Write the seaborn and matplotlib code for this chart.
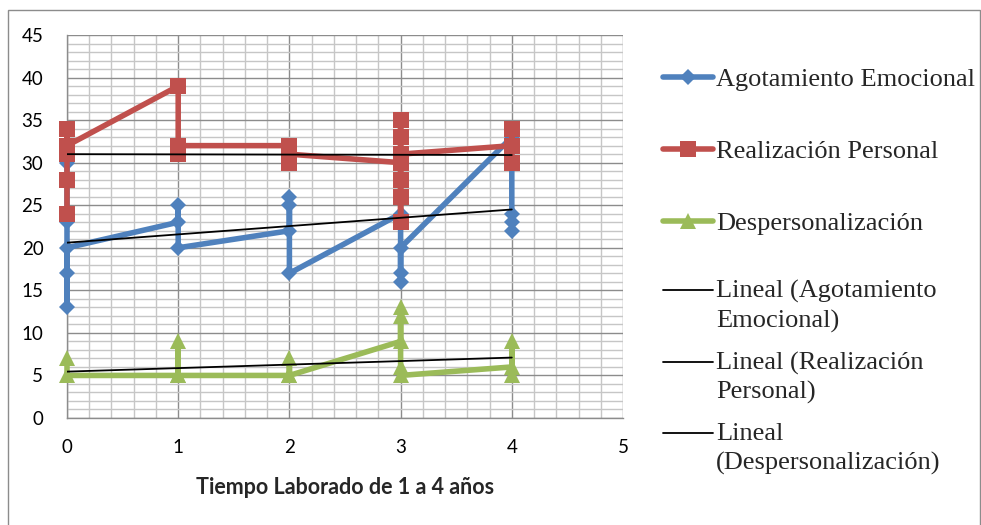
import matplotlib
matplotlib.use("Agg")
import matplotlib.pyplot as plt
import seaborn as sns
import numpy as np
import pandas as pd
from matplotlib.patches import Rectangle
from matplotlib.ticker import MultipleLocator
from matplotlib.legend_handler import HandlerLine2D

# ---------------- data ----------------
series_names = ["Agotamiento Emocional", "Realización Personal", "Despersonalización"]
trend_names = ["Lineal (Agotamiento\nEmocional)", "Lineal (Realización\nPersonal)", "Lineal\n(Despersonalización)"]

x_agot = [0, 0, 0, 0, 0, 1, 1, 1, 2, 2, 2, 2, 3, 3, 3, 3, 4, 4, 4, 4]
y_agot = [30, 23, 13, 17, 20, 23, 25, 20, 22, 25, 26, 17, 24, 16, 17, 20, 33, 24, 23, 22]

x_real = [0, 0, 0, 0, 0, 1, 1, 1, 2, 2, 2, 3, 3, 3, 3, 3, 3, 3, 4, 4, 4]
y_real = [24, 28, 31, 34, 32, 39, 31, 32, 32, 30, 31, 30, 35, 33, 28, 26, 23, 31, 32, 34, 30]

x_desp = [0, 0, 1, 1, 1, 2, 2, 2, 3, 3, 3, 3, 3, 4, 4, 4]
y_desp = [7, 5, 5, 9, 5, 5, 7, 5, 9, 13, 12, 6, 5, 6, 9, 5]

trend_x = [0, 4]
trend_agot = [20.6, 24.5]
trend_real = [31.0, 30.9]
trend_desp = [5.45, 7.1]

x_ticks = [0, 1, 2, 3, 4, 5]
y_ticks = [0, 5, 10, 15, 20, 25, 30, 35, 40, 45]
x_label = "Tiempo Laborado de 1 a 4 años"

# ---------------- style ----------------
sns.set_theme(style="white")
plt.rcParams["font.family"] = ["Lato", "DejaVu Sans"]

BLUE = "#4F81BD"
RED = "#C0504D"
GREEN = "#9BBB59"

W, H = 981, 525
fig = plt.figure(figsize=(W / 100, H / 100), dpi=100)
ax = fig.add_axes([67 / W, 1 - 418 / H, (623 - 67) / W, (418 - 35) / H])

# outer chart border
fig.patches.append(Rectangle((8 / W, -0.05), (980 - 8) / W, 1 - 10 / H + 0.05,
                             transform=fig.transFigure, fill=False,
                             edgecolor="#8c8c8c", linewidth=1.0))

ax.set_xlim(0, 5)
ax.set_ylim(0, 45)
ax.xaxis.set_major_locator(MultipleLocator(1))
ax.xaxis.set_minor_locator(MultipleLocator(0.2))
ax.yaxis.set_major_locator(MultipleLocator(5))
ax.yaxis.set_minor_locator(MultipleLocator(1))
ax.set_xticks(x_ticks)
ax.set_yticks(y_ticks)
ax.grid(which="minor", color="#c6c6c6", linewidth=1.0, zorder=0)
ax.grid(which="major", color="#8c8c8c", linewidth=1.0, zorder=0)
ax.set_axisbelow(True)

line_kw = dict(sort=False, estimator=None, ax=ax, linewidth=4.0, markeredgewidth=0,
               clip_on=False)
sns.lineplot(x=x_agot, y=y_agot, color=BLUE, marker="D", markersize=7.8,
             label=series_names[0], zorder=3, **line_kw)
sns.lineplot(x=x_real, y=y_real, color=RED, marker="s", markersize=12,
             label=series_names[1], zorder=4, **line_kw)
sns.lineplot(x=x_desp, y=y_desp, color=GREEN, marker="^", markersize=12,
             label=series_names[2], zorder=5, **line_kw)

tk = dict(sort=False, estimator=None, ax=ax, color="black", linewidth=1.3, zorder=6)
sns.lineplot(x=trend_x, y=trend_agot, label=trend_names[0], **tk)
sns.lineplot(x=trend_x, y=trend_real, label=trend_names[1], **tk)
sns.lineplot(x=trend_x, y=trend_desp, label=trend_names[2], **tk)

for s in ["top", "right"]:
    ax.spines[s].set_visible(False)
for s in ["left", "bottom"]:
    ax.spines[s].set_color("#8c8c8c")
    ax.spines[s].set_linewidth(1.0)

ax.tick_params(axis="both", which="major", direction="out", length=6, width=1.0,
               color="#8c8c8c", labelsize=13.5, labelcolor="black", pad=11)
ax.tick_params(axis="both", which="minor", length=0)
ax.tick_params(axis="x", which="major", pad=9)
ax.set_xlabel(x_label, fontsize=15.5, fontweight="bold", labelpad=15)
ax.set_ylabel("")

handles, labels = ax.get_legend_handles_labels()
if ax.legend_:
    ax.legend_.remove()


class TopHandler(HandlerLine2D):
    """Align the legend line with the first text line (as Excel does)."""
    def create_artists(self, legend, orig_handle, xdescent, ydescent, width,
                       height, fontsize, trans):
        arts = super().create_artists(legend, orig_handle, xdescent, ydescent,
                                      width, height, fontsize, trans)
        for a in arts:
            a.set_ydata(np.asarray(a.get_ydata(), dtype=float) + 11.3)
        return arts


leg_font = {"family": ["Liberation Serif"], "size": 19}
leg1 = fig.legend(handles[:3], labels[:3], loc="upper left",
                  bbox_to_anchor=(663 / W, 1 - 68 / H), frameon=False,
                  prop=leg_font, handlelength=1.9, handletextpad=0.12,
                  labelspacing=1.83, borderpad=0, borderaxespad=0)
leg2 = fig.legend(handles[3:], labels[3:], loc="upper left",
                  bbox_to_anchor=(663 / W, 1 - 280 / H), frameon=False,
                  prop=leg_font, handlelength=1.9, handletextpad=0.12,
                  labelspacing=0.72, borderpad=0, borderaxespad=0,
                  handler_map={h: TopHandler() for h in handles[3:]})
for t in leg2.get_texts():
    t.set_linespacing(1.37)

fig.savefig("out.png", dpi=100)
